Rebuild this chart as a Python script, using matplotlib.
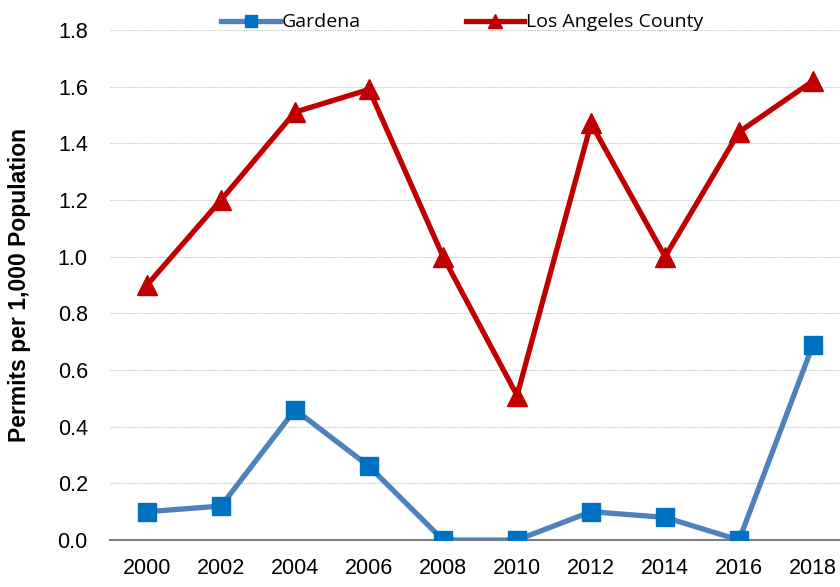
import matplotlib
matplotlib.use("Agg")
import matplotlib.pyplot as plt

# Data
years = ["2000", "2002", "2004", "2006", "2008", "2010", "2012", "2014", "2016", "2018"]
gardena = [0.10, 0.12, 0.46, 0.26, 0.00, 0.00, 0.10, 0.08, 0.00, 0.69]
la_county = [0.90, 1.20, 1.51, 1.59, 1.00, 0.51, 1.47, 1.00, 1.44, 1.62]

tick_font = ["Liberation Sans", "DejaVu Sans"]

fig = plt.figure(figsize=(8.4, 5.87), dpi=100)
ax = fig.add_axes([0.131, 0.080, 0.881, 0.869])

x = range(len(years))
ax.plot(x, gardena, color="#4F81BD", lw=3.8, marker="s", ms=13,
        mfc="#0070C0", mec="#0070C0", label="Gardena", zorder=3)
ax.plot(x, la_county, color="#C00000", lw=3.8, marker="^", ms=14,
        mfc="#C00000", mec="#C00000", label="Los Angeles County", zorder=3)

ax.set_xlim(-0.5, len(years) - 0.5)
ax.set_ylim(0, 1.8)
ax.set_yticks([i * 0.2 for i in range(10)])
ax.set_yticklabels([f"{i * 0.2:.1f}" for i in range(10)], family=tick_font, fontsize=15.5)
ax.set_xticks(list(x))
ax.set_xticklabels(years, family=tick_font, fontsize=15.5)

ax.grid(axis="y", color="#BFBFBF", linestyle=(0, (1, 1)), lw=0.8)
ax.set_axisbelow(True)
for s in ["top", "right", "left"]:
    ax.spines[s].set_visible(False)
ax.spines["bottom"].set_color("#808080")
ax.spines["bottom"].set_linewidth(1.5)
ax.spines["bottom"].set_zorder(2)
ax.tick_params(length=0, pad=13)
ax.tick_params(axis="y", pad=16)

ax.set_ylabel("Permits per 1,000 Population", family=tick_font, fontsize=16.5,
              fontweight="bold", labelpad=19)

ax.legend(loc="lower center", bbox_to_anchor=(0.476, 0.982), ncol=2, frameon=False,
          prop={"family": "Open Sans", "size": 14}, handlelength=3.0, markerscale=0.7,
          columnspacing=5.4, handletextpad=0.1, borderaxespad=0)

fig.savefig("out.png", dpi=100)
